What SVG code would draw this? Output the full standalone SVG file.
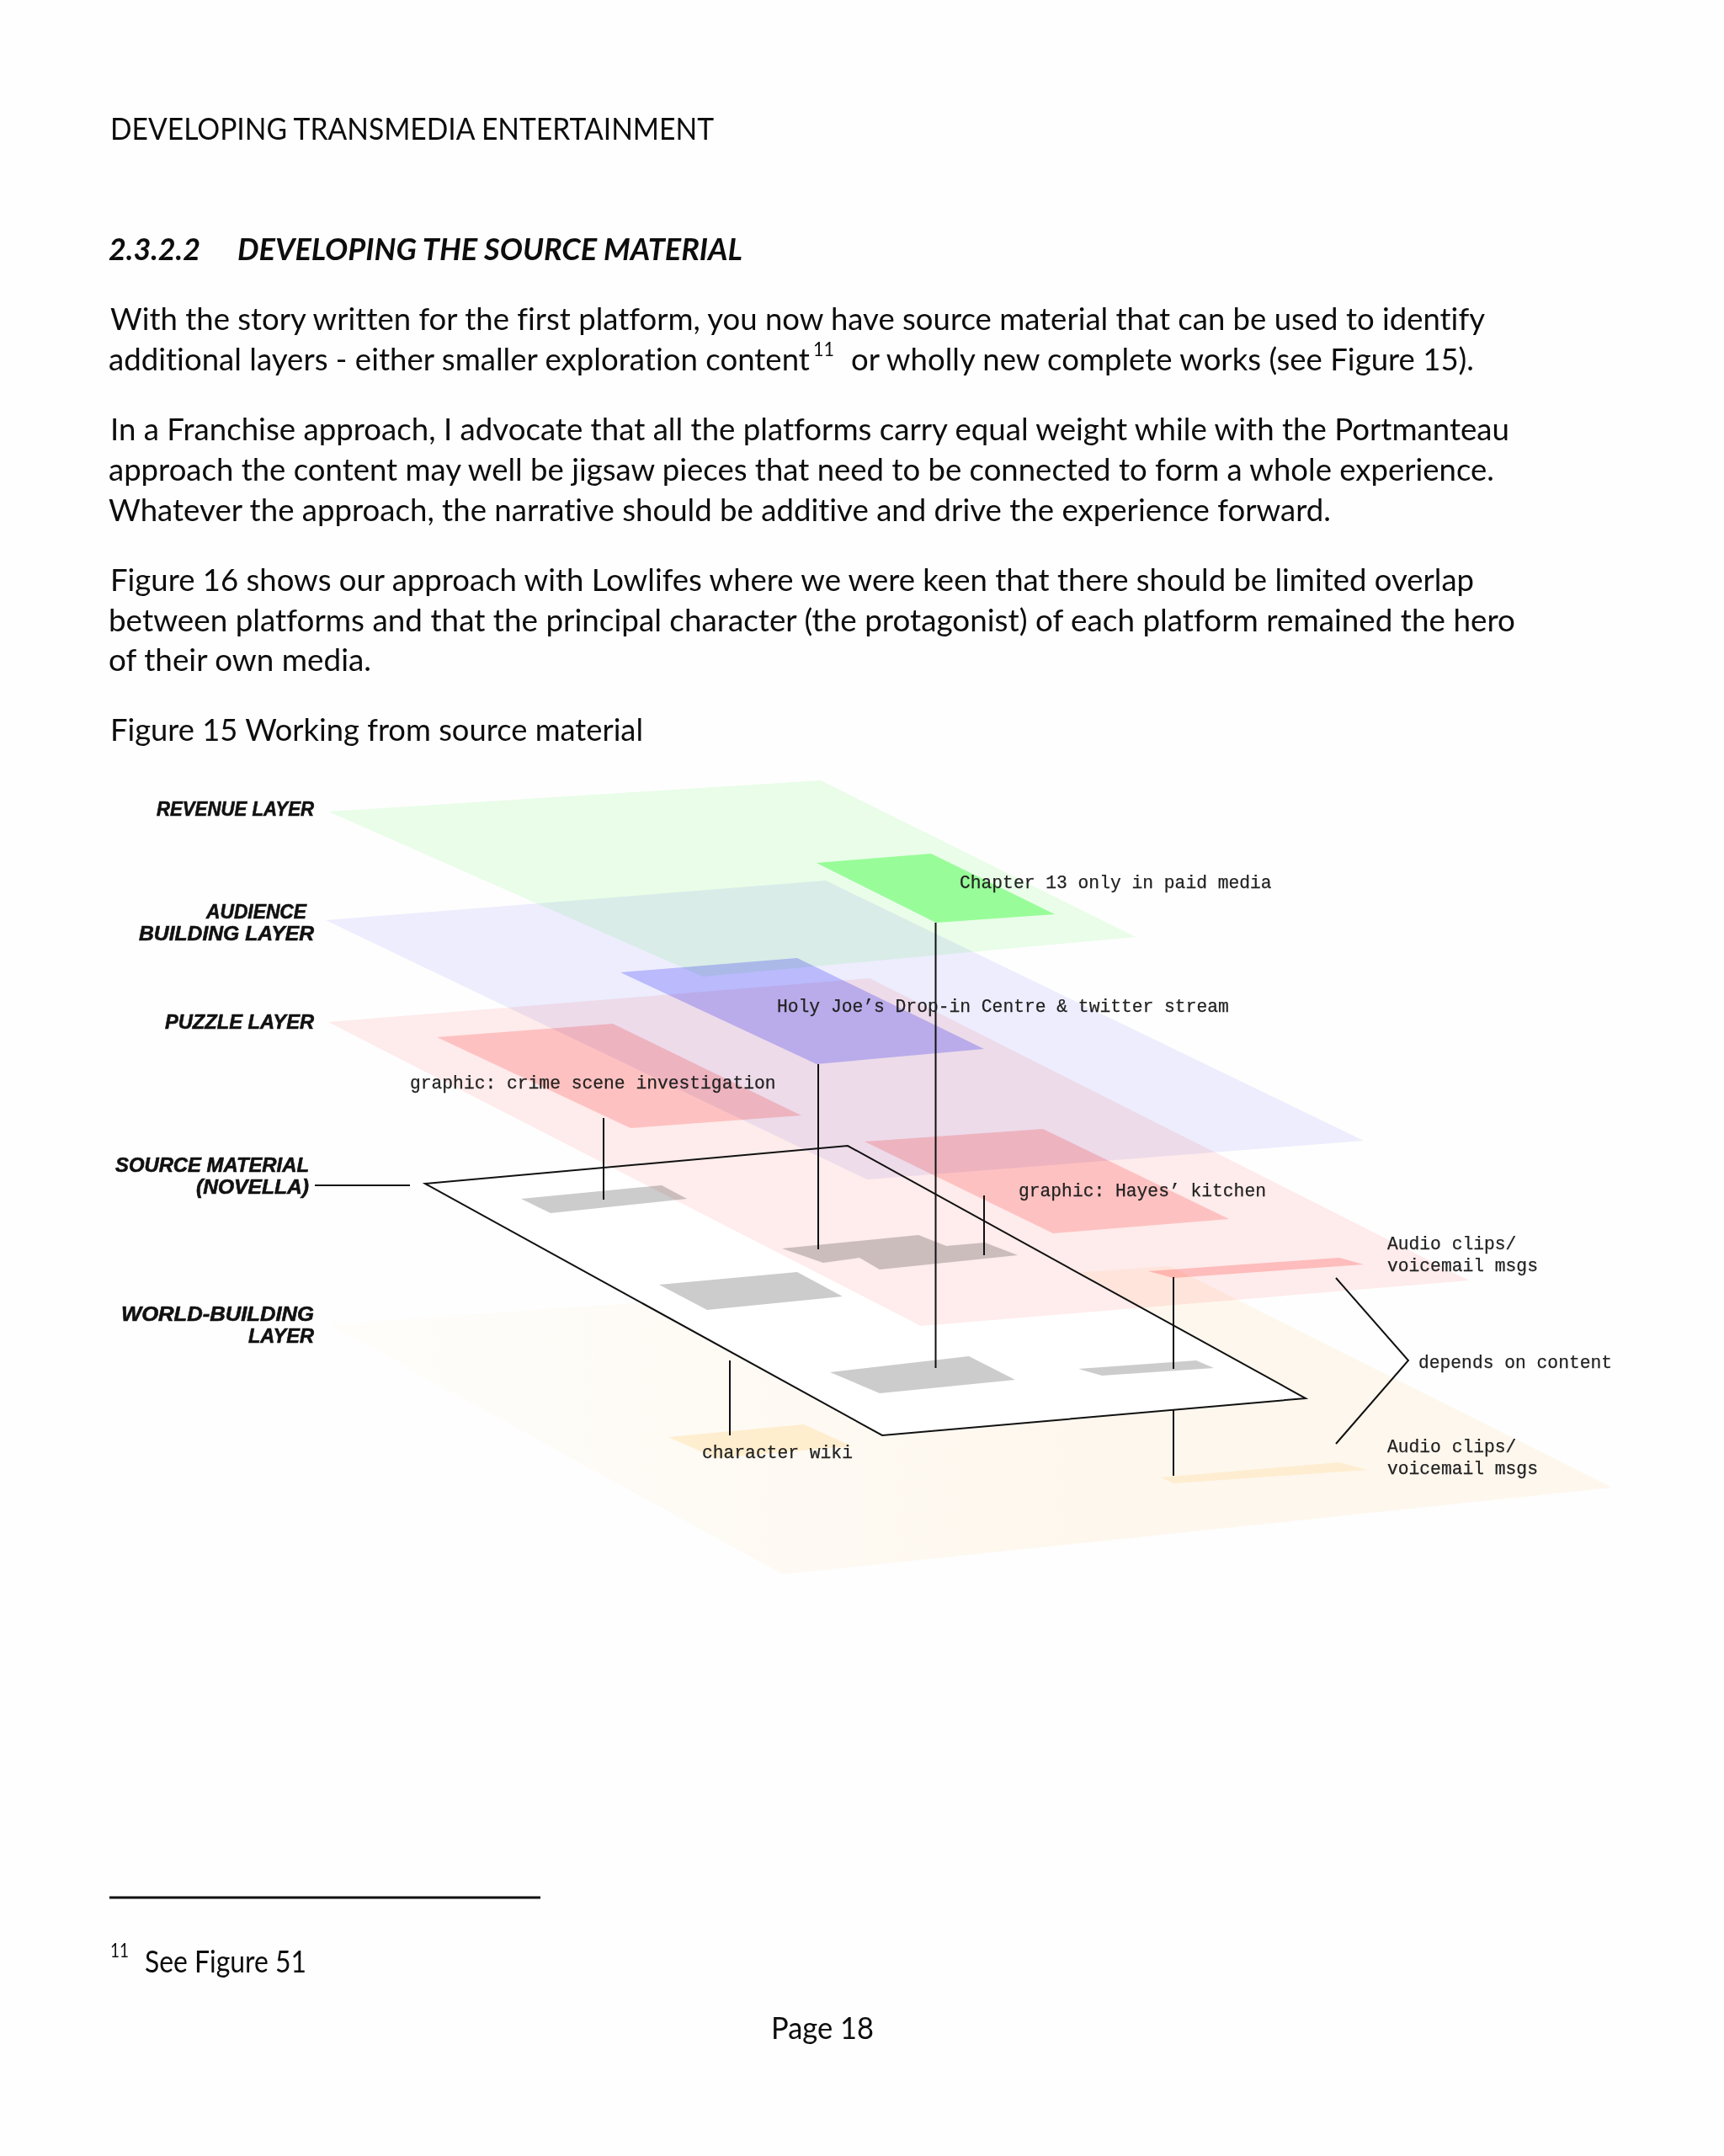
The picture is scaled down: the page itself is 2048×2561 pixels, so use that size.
<svg xmlns="http://www.w3.org/2000/svg" width="2048" height="2561" viewBox="0 0 2048 2561">
<style>
.d{font-family:Lato,"Liberation Sans",sans-serif;font-size:36.500px;fill:#0d0d0d;font-variant-ligatures:none}
.h{font-weight:700;font-style:italic}
.s{font-size:24px}
.m{font-family:"Liberation Mono",monospace;font-size:21.3px;fill:#222;stroke:#222;stroke-width:.25}
.c{font-family:"Liberation Sans",sans-serif;font-weight:700;font-style:italic;font-size:24px;fill:#111;stroke:#111;stroke-width:.6}
.b{mix-blend-mode:multiply}
.l{stroke:#111;stroke-width:2;fill:none}
</style>
<defs>
<linearGradient id="fade" gradientUnits="userSpaceOnUse" x1="480" y1="1650" x2="1300" y2="1650">
<stop offset="0" stop-color="#fffefb"/><stop offset="1" stop-color="#fff8ee"/>
</linearGradient>
</defs>
<rect width="2048" height="2561" fill="#fefefe"/>
<g id="page-text">
<text class="d" x="131" y="166" textLength="717" lengthAdjust="spacingAndGlyphs">DEVELOPING TRANSMEDIA ENTERTAINMENT</text>
<text class="d h" x="129" y="309" textLength="109" lengthAdjust="spacingAndGlyphs">2.3.2.2</text>
<text class="d h" x="282" y="309" textLength="600" lengthAdjust="spacingAndGlyphs">DEVELOPING THE SOURCE MATERIAL</text>
<text class="d" x="131" y="392" textLength="1633" lengthAdjust="spacingAndGlyphs">With the story written for the first platform, you now have source material that can be used to identify</text>
<text class="d" x="129" y="440" textLength="833" lengthAdjust="spacingAndGlyphs">additional layers - either smaller exploration content</text>
<text class="d s" x="966" y="423" textLength="25" lengthAdjust="spacingAndGlyphs">11</text>
<text class="d" x="1011" y="440" textLength="740" lengthAdjust="spacingAndGlyphs">or wholly new complete works (see Figure 15).</text>
<text class="d" x="131" y="523" textLength="1662" lengthAdjust="spacingAndGlyphs">In a Franchise approach, I advocate that all the platforms carry equal weight while with the Portmanteau</text>
<text class="d" x="129" y="571" textLength="1646" lengthAdjust="spacingAndGlyphs">approach the content may well be jigsaw pieces that need to be connected to form a whole experience.</text>
<text class="d" x="129" y="619" textLength="1452" lengthAdjust="spacingAndGlyphs">Whatever the approach, the narrative should be additive and drive the experience forward.</text>
<text class="d" x="131" y="702" textLength="1620" lengthAdjust="spacingAndGlyphs">Figure 16 shows our approach with Lowlifes where we were keen that there should be limited overlap</text>
<text class="d" x="129" y="750" textLength="1671" lengthAdjust="spacingAndGlyphs">between platforms and that the principal character (the protagonist) of each platform remained the hero</text>
<text class="d" x="129" y="797" textLength="312" lengthAdjust="spacingAndGlyphs">of their own media.</text>
<text class="d" x="131" y="880" textLength="633" lengthAdjust="spacingAndGlyphs">Figure 15 Working from source material</text>
<rect x="130" y="2252.500" width="512" height="3" fill="#111"/>
<text class="d s" x="131" y="2325" textLength="22" lengthAdjust="spacingAndGlyphs">11</text>
<text class="d" x="172" y="2343" textLength="192" lengthAdjust="spacingAndGlyphs">See Figure 51</text>
<text class="d" x="916" y="2422" textLength="122" lengthAdjust="spacingAndGlyphs">Page 18</text>
</g>
<g id="world-building-layer"><polygon class="b" points="390,1573 1390,1504 1915,1767 930,1870" fill="url(#fade)"/></g>
<g id="source-material"><polygon points="505,1406 1007,1361 1551,1661 1048,1705" fill="#fff"/>
<polygon class="b" points="619,1424 786,1408 816,1424 654,1441" fill="#ccc"/>
<polygon class="b" points="783,1526 947,1511 1001,1540 840,1556" fill="#ccc"/>
<polygon class="b" points="986,1630 1151,1611 1206,1639 1045,1655" fill="#ccc"/>
<polygon class="b" points="1281,1626 1421,1616 1442,1625 1309,1634" fill="#ccc"/>
<polygon class="b" points="929,1483 1091,1467 1124,1480 1170,1476 1209,1491 1045,1508 1021,1494 978,1500" fill="#ccc"/>
</g>
<g id="puzzle-layer"><polygon class="b" points="390,1214 1033,1162 1745,1521 1094,1575" fill="#ffecec"/></g>
<g id="audience-layer"><polygon class="b" points="387,1093 981,1046 1620,1355 1030,1401" fill="#eeeefe"/></g>
<g id="revenue-layer"><polygon class="b" points="390,964 975,927 1349,1113 835,1160" fill="#eafeea"/></g>
<g id="paid-media"><polygon class="b" points="970,1025 1106,1014 1253,1086 1112,1096" fill="#a6ffa6"/></g>
<g id="drop-in"><polygon class="b" points="737,1155 947,1138 1169,1246 970,1264" fill="#c8c8ff"/></g>
<g id="crime-scene"><polygon class="b" points="519,1232 728,1216 952,1325 749,1340" fill="#ffd2d2"/></g>
<g id="hayes-kitchen"><polygon class="b" points="1027,1356 1239,1341 1460,1448 1251,1465" fill="#ffd2d2"/></g>
<g id="audio-puzzle"><polygon class="b" points="1364,1510 1591,1494 1620,1502 1394,1518" fill="#ffcccc"/></g>
<g id="wiki"><polygon class="b" points="794,1707 955,1692 1012,1718 850,1732" fill="#fff3d9"/></g>
<g id="audio-world"><polygon class="b" points="1379,1755 1591,1737 1624,1746 1394,1762" fill="#fff5e0"/></g>
<g id="connectors">
<polygon class="l" points="505,1406 1007,1361 1551,1661 1048,1705"/>
<path class="l" d="M374 1408H487M717 1328V1425M972 1264V1484M1111.500 1096V1625M1169 1420V1491M1394 1517V1626M1394 1675V1753M867 1616V1705M1587 1518L1673 1616L1587 1715"/>
</g>
<g id="labels">
<text class="c" x="186" y="968.500" textLength="187" lengthAdjust="spacingAndGlyphs">REVENUE LAYER</text>
<text class="c" x="245" y="1091" textLength="119" lengthAdjust="spacingAndGlyphs">AUDIENCE</text>
<text class="c" x="165" y="1117" textLength="208" lengthAdjust="spacingAndGlyphs">BUILDING LAYER</text>
<text class="c" x="196" y="1222" textLength="177" lengthAdjust="spacingAndGlyphs">PUZZLE LAYER</text>
<text class="c" x="137" y="1392" textLength="230" lengthAdjust="spacingAndGlyphs">SOURCE MATERIAL</text>
<text class="c" x="233" y="1418" textLength="134" lengthAdjust="spacingAndGlyphs">(NOVELLA)</text>
<text class="c" x="144" y="1569" textLength="229" lengthAdjust="spacingAndGlyphs">WORLD-BUILDING</text>
<text class="c" x="295" y="1595" textLength="78" lengthAdjust="spacingAndGlyphs">LAYER</text>
<text class="m" x="1140" y="1055">Chapter 13 only in paid media</text>
<text class="m" x="923" y="1202">Holy Joe’s Drop-in Centre &amp; twitter stream</text>
<text class="m" x="487" y="1293">graphic: crime scene investigation</text>
<text class="m" x="1210" y="1421">graphic: Hayes’ kitchen</text>
<text class="m" x="1648" y="1483.500">Audio clips/</text>
<text class="m" x="1648" y="1510">voicemail msgs</text>
<text class="m" x="1685" y="1625">depends on content</text>
<text class="m" x="1648" y="1724.500">Audio clips/</text>
<text class="m" x="1648" y="1751">voicemail msgs</text>
<text class="m" x="834" y="1732">character wiki</text>
</g>
</svg>
